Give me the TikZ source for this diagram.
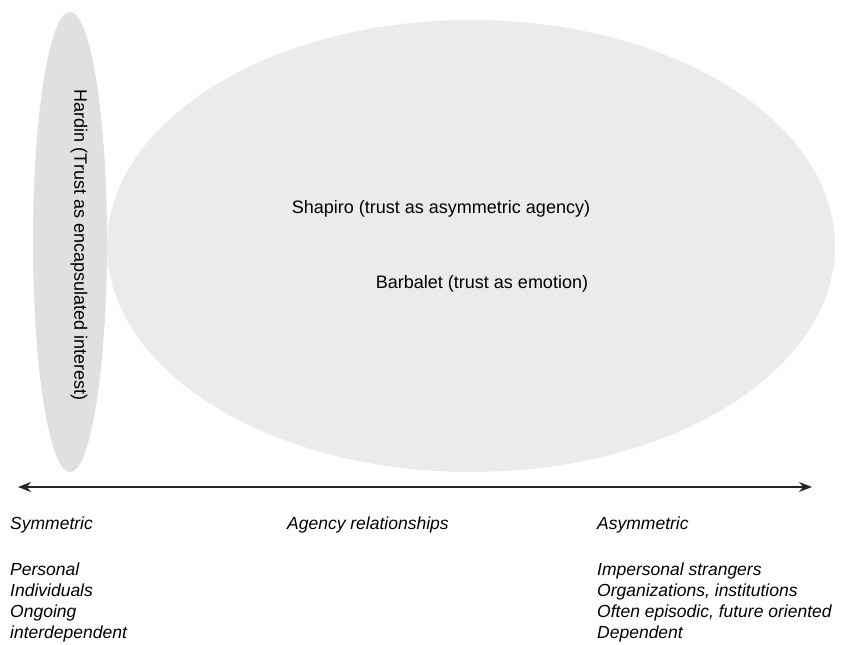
\documentclass[tikz,border=0pt]{standalone}
\usepackage{fontspec}
\setmainfont{Liberation Sans}
\usetikzlibrary{arrows.meta,shapes.geometric}

\begin{document}
\begin{tikzpicture}[
  x=1pt, y=-1pt,
  zone/.style={ellipse, inner sep=0pt, draw=none},
  label/.style={inner sep=0pt, font=\fontsize{18}{21}\selectfont},
  pole/.style={inner sep=0pt, anchor=base west, font=\fontsize{17.5}{21}\selectfont\itshape},
  traits/.style={inner sep=0pt, anchor=north west, align=left, font=\fontsize{17.5}{21}\selectfont\itshape},
  axis/.style={{Stealth[length=13pt,width=10pt]}-{Stealth[length=13pt,width=10pt]}, line width=1.8pt, black!85}
]

% Frame
\fill[white] (0,0) rectangle (863,645);
\useasboundingbox (0,0) rectangle (863,645);

% Trust zones
\node[zone, fill=black!8, minimum width=728pt, minimum height=452pt] (shapiro) at (471,246) {};
\node[zone, fill=black!12, minimum width=74pt, minimum height=460pt] (hardin) at (70,242) {};

% Zone labels
\node[label, rotate=-90] (hardinlbl) at (79,245) {Hardin (Trust as encapsulated interest)};
\node[label] (shapirolbl) at (441,209) {Shapiro (trust as asymmetric agency)};
\node[label] (barbaletlbl) at (482,284) {Barbalet (trust as emotion)};

% Axis
\coordinate (axl) at (18,487);
\coordinate (axr) at (812,487);
\draw[axis] (axl) -- (axr);

% Poles
\node[pole] (sym) at (10,529) {Symmetric};
\node[pole] (agency) at (287,529) {Agency relationships};
\node[pole] (asym) at (597,529) {Asymmetric};

% Traits
\node[traits] (symtraits) at (10,563) {Personal\\Individuals\\Ongoing\\interdependent};
\node[traits] (asymtraits) at (597,563) {Impersonal strangers\\Organizations, institutions\\Often episodic, future oriented\\Dependent};

\end{tikzpicture}
\end{document}
